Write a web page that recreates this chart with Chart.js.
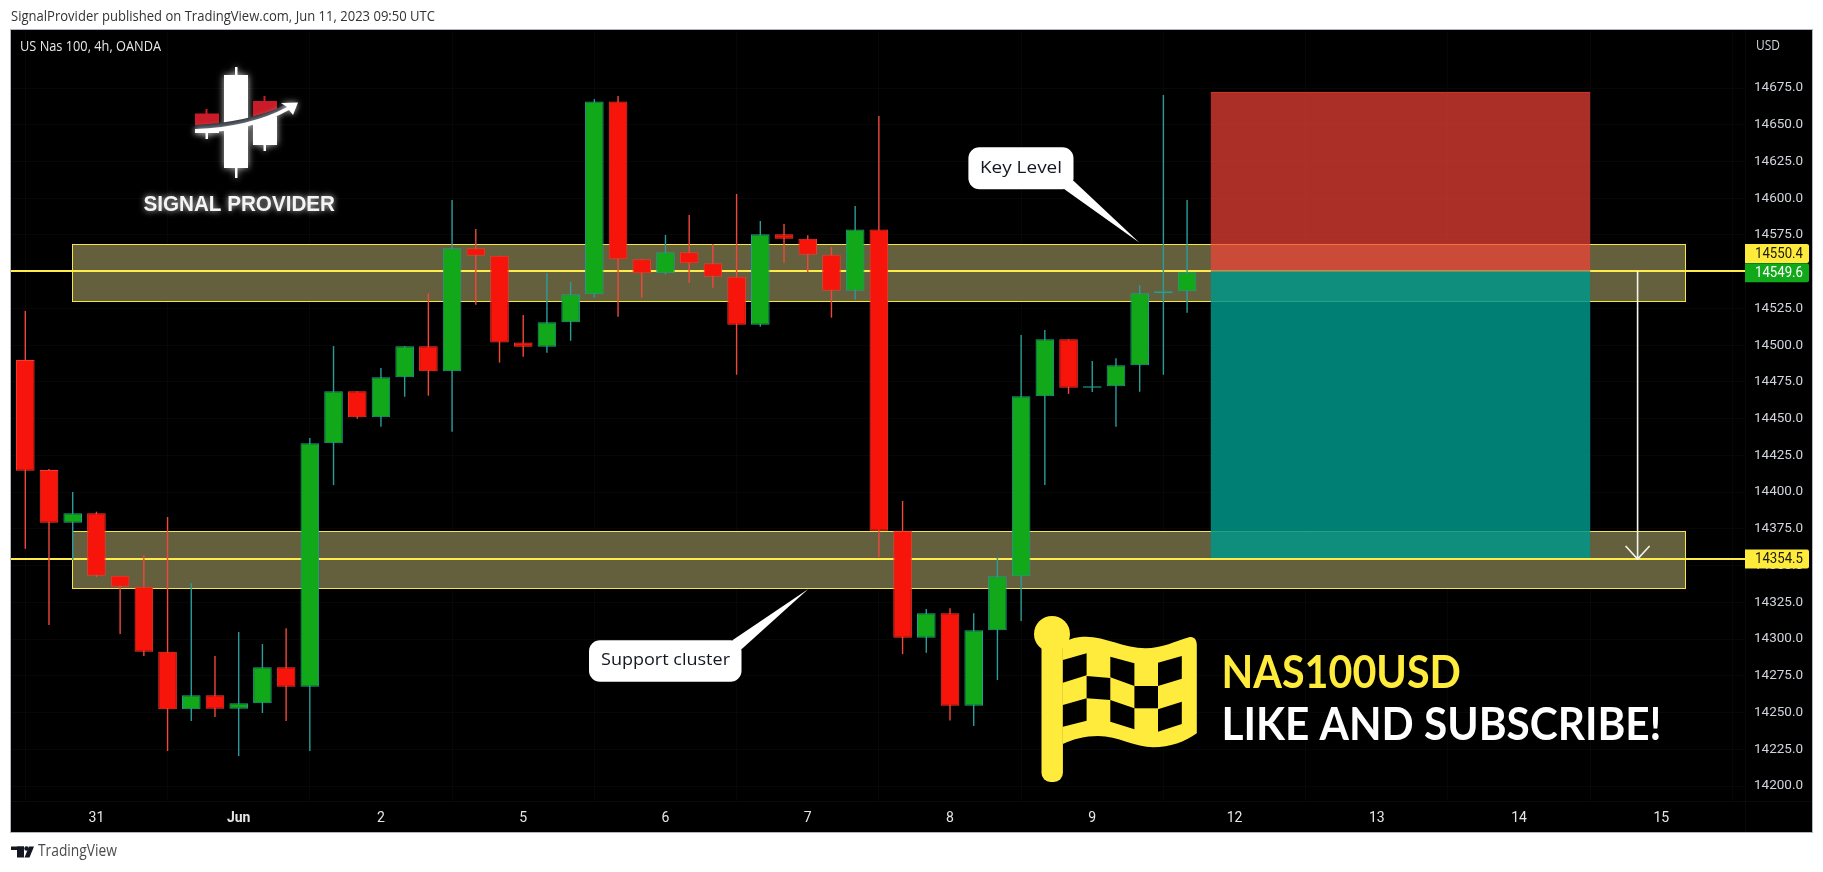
<!DOCTYPE html>
<html>
<head>
<meta charset="utf-8">
<style>
html,body{margin:0;padding:0;background:#fff;width:1823px;height:872px;overflow:hidden}
canvas{display:block}
</style>
<script src="https://cdn.jsdelivr.net/npm/chart.js@4"></script>
</head>
<body>
<canvas id="c" width="1823" height="872" style="width:1823px;height:872px"></canvas>
<script>
const opens =[14489.9,14415.0,14379.2,14385.6,14343.1,14335.6,14291.4,14252.2,14261.7,14252.6,14256.3,14280.8,14267.6,14433.2,14468.6,14450.9,14478.1,14499.2,14482.2,14565.9,14560.9,14501.9,14499.0,14515.6,14534.6,14665.9,14558.4,14548.9,14563.2,14555.7,14546.6,14513.9,14575.4,14572.4,14561.6,14537.1,14578.8,14373.7,14300.9,14317.5,14254.7,14306.0,14342.7,14465.2,14504.0,14471.1,14472.0,14486.3,14535.3,14536.7];
const highs =[14523.2,14415.7,14400.1,14386.7,14343.1,14357.2,14383.1,14338.0,14288.5,14304.8,14296.6,14307.3,14436.8,14499.4,14468.6,14484.5,14499.4,14535.3,14598.8,14579.0,14560.9,14520.5,14548.9,14543.0,14667.5,14669.6,14558.4,14575.0,14588.6,14568.8,14602.9,14584.5,14582.5,14574.8,14566.8,14594.7,14655.9,14394.0,14320.5,14321.0,14317.5,14355.4,14506.9,14510.3,14504.0,14489.2,14491.1,14540.9,14670.2,14598.8];
const lows  =[14361.5,14309.6,14353.8,14342.2,14303.4,14288.5,14223.8,14244.2,14247.0,14220.4,14249.7,14244.2,14223.8,14404.8,14450.0,14444.5,14464.9,14465.6,14441.1,14527.5,14488.1,14492.1,14494.9,14503.0,14532.3,14519.4,14532.3,14548.0,14542.5,14539.1,14479.9,14512.6,14556.1,14549.8,14518.7,14530.9,14355.6,14289.8,14290.7,14244.5,14240.8,14272.1,14312.3,14404.8,14466.8,14468.1,14444.5,14468.3,14479.9,14522.1];
const closes=[14414.6,14379.2,14385.6,14343.1,14335.6,14291.4,14252.2,14261.7,14252.6,14256.3,14280.8,14267.6,14433.2,14468.6,14450.9,14478.1,14499.2,14482.2,14565.9,14560.9,14501.9,14499.0,14515.6,14534.6,14665.9,14558.4,14548.9,14563.2,14555.7,14546.6,14513.9,14575.4,14572.4,14561.6,14537.1,14578.8,14373.7,14300.9,14317.5,14254.7,14306.0,14342.7,14465.2,14504.0,14471.1,14472.0,14486.3,14535.3,14536.7,14549.6];
const priceTicks=[14200,14225,14250,14275,14300,14325,14350,14375,14400,14425,14450,14475,14500,14525,14550,14575,14600,14625,14650,14675];
const dateTicks=[3,9,15,21,27,33,39,45,51,57,63,69];
const dateLabels=["31","Jun","2","5","6","7","8","9","12","13","14","15"];
const zoneTop=[14568.6,14529.6];
const zoneBottom=[14373.3,14334.5];
const zoneSpan=[1.97,70];
const levels=[14550.4,14354.5];
const lastClose=14549.6;
const positionSpan=[50,66];
const stopPrice=14672;
const entryPrice=14550.4;
const targetPrice=14354.5;
const arrowIndex=68;

const indices=opens.map((_,i)=>i);
const isUp=i=>closes[i]>=opens[i];
const FONT='"Open Sans"';

function rr(ctx,x,y,w,h,r){ctx.beginPath();ctx.roundRect(x,y,w,h,r);}
function poly(ctx,pts,color){ctx.fillStyle=color;ctx.beginPath();pts.forEach((p,i)=>i?ctx.lineTo(p[0],p[1]):ctx.moveTo(p[0],p[1]));ctx.closePath();ctx.fill();}
function fit(ctx,text,x,y,w,font,color){ctx.save();ctx.font=font;ctx.fillStyle=color;ctx.textAlign='left';ctx.textBaseline='middle';const m=ctx.measureText(text).width;ctx.translate(x,y);ctx.scale(w/m,1);ctx.fillText(text,0,0);ctx.restore();}

function drawLogo(ctx){
  ctx.save();
  ctx.shadowColor='rgba(255,255,255,.75)';ctx.shadowBlur=7;
  ctx.fillStyle='#fff';
  ctx.fillRect(235,67,2.5,111);
  ctx.fillRect(224,75,24,93);
  ctx.fillRect(205.5,130,2.5,9);
  ctx.fillRect(263.5,141,2.5,10);
  ctx.beginPath();ctx.moveTo(253,124);ctx.lineTo(277,116);ctx.lineTo(277,145);ctx.lineTo(253,145);ctx.closePath();ctx.fill();
  ctx.fillRect(195,130,24,3);
  ctx.fillStyle='#c91c28';ctx.shadowBlur=0;
  ctx.fillRect(205.5,109,2,6);ctx.fillRect(263.5,96,2,6);
  ctx.fillRect(195,113.5,24,11.5);
  ctx.beginPath();ctx.moveTo(253,101);ctx.lineTo(277,101);ctx.lineTo(277,110);ctx.lineTo(253,116.5);ctx.closePath();ctx.fill();
  ctx.fillStyle='#232a33';
  ctx.beginPath();ctx.moveTo(195,125);ctx.quadraticCurveTo(250,122,285,105);ctx.lineTo(287,108);ctx.quadraticCurveTo(250,129,195,130);ctx.closePath();ctx.fill();
  ctx.shadowBlur=6;ctx.fillStyle='#fff';
  ctx.beginPath();ctx.moveTo(195,129);ctx.quadraticCurveTo(250,127,287,107);ctx.lineTo(281,103);ctx.lineTo(298,102.5);ctx.lineTo(293,115);ctx.lineTo(289,110);ctx.quadraticCurveTo(250,132,195,133);ctx.closePath();ctx.fill();
  ctx.shadowColor='rgba(255,255,255,.8)';ctx.shadowBlur=6;
  fit(ctx,'SIGNAL PROVIDER',143.5,205,191.5,'bold 22px "Liberation Sans"','#f4f4f4');
  ctx.restore();
}
function drawFlag(ctx){
  const Y='#ffeb3b';
  ctx.save();
  ctx.fillStyle=Y;
  ctx.beginPath();ctx.arc(1052,634,18,0,Math.PI*2);ctx.fill();
  rr(ctx,1041.5,640,21.4,142,9);ctx.fill();
  ctx.beginPath();ctx.moveTo(1062.9,643.3);
  ctx.bezierCurveTo(1070,638,1078,636.7,1086,636.7);
  ctx.bezierCurveTo(1105,636.7,1125,648.3,1145.4,648.3);
  ctx.bezierCurveTo(1162,648.3,1176,641,1189,637.3);
  ctx.bezierCurveTo(1194,636,1196.8,640,1196.8,645);
  ctx.lineTo(1196.8,733.3);
  ctx.bezierCurveTo(1185,742,1170,747.3,1153.4,747.3);
  ctx.bezierCurveTo(1135,747.3,1118,736,1098,736);
  ctx.bezierCurveTo(1085,736,1073,739,1062.9,744);
  ctx.closePath();ctx.fill();
  [[[1062.9,660],[1086.6,653.3],[1086.6,675.3],[1062.9,682.7]],
   [[1110.3,656.7],[1134.4,663.3],[1134.4,686],[1110.3,677.3]],
   [[1158,662.7],[1181.8,656],[1181.8,678.7],[1158,686]],
   [[1086.6,676],[1110.3,678],[1110.3,700],[1086.6,698.3]],
   [[1134.4,686],[1158,686],[1158,708.3],[1134.4,708.3]],
   [[1062.9,705],[1086.6,698.3],[1086.6,720.7],[1062.9,726.7]],
   [[1110.3,700],[1134.4,708.3],[1134.4,729.3],[1110.3,721.7]],
   [[1158,709.3],[1181.8,701.7],[1181.8,724],[1158,731.7]]
  ].forEach(c=>poly(ctx,c,'#000'));
  ctx.restore();
}
function callout(ctx,x,y,w,h,tail,text,tx,tw){
  ctx.save();
  ctx.fillStyle='#fff';
  rr(ctx,x,y,w,h,11);ctx.fill();
  poly(ctx,tail,'#fff');
  fit(ctx,text,tx,y+h/2-.5,tw,'17px '+FONT,'#131722');
  ctx.restore();
}
const decor={
  id:'decor',
  beforeDraw(chart){
    const ctx=chart.ctx;
    ctx.save();
    ctx.fillStyle='#fff';ctx.fillRect(0,0,1823,872);
    ctx.fillStyle='#000';ctx.fillRect(11,30,1801,802);
    ctx.strokeStyle='#b2b5be';ctx.lineWidth=1;ctx.strokeRect(10.5,29.5,1802,803);
    ctx.strokeStyle='#0a0a0a';ctx.beginPath();ctx.moveTo(1745.5,30);ctx.lineTo(1745.5,832);ctx.moveTo(11,801.5);ctx.lineTo(1812,801.5);ctx.stroke();
    fit(ctx,'SignalProvider published on TradingView.com, Jun 11, 2023 09:50 UTC',11,17,424,'14px '+FONT,'#333');
    fit(ctx,'TradingView',38,852,79,'15.5px '+FONT,'#4a4a4a');
    ctx.fillStyle='#131722';
    ctx.fillRect(11,846.5,13,3.5);ctx.fillRect(17,846.5,7,11);
    ctx.beginPath();ctx.arc(26.5,848.5,2.2,0,Math.PI*2);ctx.fill();
    poly(ctx,[[29,846.5],[34,846.5],[29.5,857.5],[24.5,857.5]],'#131722');
    ctx.restore();
  },
  beforeDatasetsDraw(chart){
    const ctx=chart.ctx,xs=chart.scales.x,ys=chart.scales.y,a=chart.chartArea;
    ctx.save();
    ctx.beginPath();ctx.rect(a.left,a.top,a.right-a.left,a.bottom-a.top);ctx.clip();
    [zoneTop,zoneBottom].forEach(z=>{
      const x0=xs.getPixelForValue(zoneSpan[0]),x1=xs.getPixelForValue(zoneSpan[1]);
      const y0=ys.getPixelForValue(z[0]),y1=ys.getPixelForValue(z[1]);
      ctx.fillStyle='#645f3c';ctx.fillRect(x0,y0,x1-x0,y1-y0);
      ctx.strokeStyle='#f5e44a';ctx.lineWidth=1;
      ctx.strokeRect(Math.round(x0)+.5,Math.round(y0)+.5,Math.round(x1-x0),Math.round(y1-y0));
    });
    ctx.strokeStyle='#fdeb4a';ctx.lineWidth=2;
    levels.forEach(l=>{const y=ys.getPixelForValue(l);ctx.beginPath();ctx.moveTo(a.left,y);ctx.lineTo(a.right,y);ctx.stroke();});
    const px0=xs.getPixelForValue(positionSpan[0]),px1=xs.getPixelForValue(positionSpan[1]);
    const ys0=ys.getPixelForValue(stopPrice),ye=ys.getPixelForValue(entryPrice),yt=ys.getPixelForValue(targetPrice);
    ctx.fillStyle='rgba(244,67,54,.7)';ctx.fillRect(px0,ys0,px1-px0,ye-ys0);
    ctx.fillStyle='rgba(0,150,136,.85)';ctx.fillRect(px0,ye,px1-px0,yt-ye-1);
    ctx.strokeStyle='#d8362a';ctx.lineWidth=1;
    ctx.beginPath();ctx.moveTo(px0,ys0);ctx.lineTo(px1,ys0);ctx.stroke();
    const ax=xs.getPixelForValue(arrowIndex);
    ctx.strokeStyle='#f5f5ee';ctx.lineWidth=1.6;
    ctx.beginPath();ctx.moveTo(ax,ye);ctx.lineTo(ax,yt);ctx.moveTo(ax-12,yt-13);ctx.lineTo(ax,yt);ctx.lineTo(ax+12,yt-13);ctx.stroke();
    ctx.restore();
    drawLogo(ctx);
    drawFlag(ctx);
    fit(ctx,'NAS100USD',1221.5,673,239.5,'bold 46px Lato','#ffeb3b');
    fit(ctx,'LIKE AND SUBSCRIBE!',1221.5,725.5,440,'bold 46px Lato','#ffffff');
  },
  afterDraw(chart){
    const ctx=chart.ctx,ys=chart.scales.y;
    ctx.save();
    fit(ctx,'US Nas 100, 4h, OANDA',20,47,141,'14px '+FONT,'#e8e8e8');
    fit(ctx,'USD',1756,46,24,'14px '+FONT,'#d1d4dc');
    callout(ctx,968.4,147.3,105.1,42,[[1073.5,180.7],[1064.4,189.3],[1139.5,242.7]],'Key Level',980,82);
    callout(ctx,589,640.3,152.5,41.4,[[732.4,640.3],[741.5,649.3],[808.3,589]],'Support cluster',601,129);
    const tag=(yc,val,bg,fg)=>{
      ctx.fillStyle=bg;rr(ctx,1745,yc-9.5,64,19,[0,2,2,0]);ctx.fill();
      fit(ctx,val.toFixed(1),1755,yc+.5,48,'14px Roboto',fg);
    };
    tag(ys.getPixelForValue(levels[0])-17.5,levels[0],'#ffeb3b','#1a1a10');
    tag(ys.getPixelForValue(lastClose)+.5,lastClose,'#11a81a','#ffffff');
    tag(ys.getPixelForValue(levels[1]),levels[1],'#ffeb3b','#1a1a10');
    ctx.restore();
  }
};
const wickData=indices.map(i=>({x:i,y:[lows[i],highs[i]]}));
const bodyData=indices.map(i=>({x:i,y:[opens[i],closes[i]]}));
new Chart(document.getElementById('c'),{
  type:'bar',
  data:{datasets:[
    {label:'Body',data:bodyData,order:1,grouped:false,barThickness:18.6,borderWidth:1,borderSkipped:false,inflateAmount:0,
     backgroundColor:c=>isUp(c.dataIndex)?'#11a81a':'#f7150b',
     borderColor:c=>isUp(c.dataIndex)?'#1f9f96':'#f6392d'},
    {label:'Wick',data:wickData,order:2,grouped:false,barThickness:1.4,borderWidth:0,inflateAmount:0,
     backgroundColor:c=>isUp(c.dataIndex)?'#2a9d9a':'#f0483b'}
  ]},
  options:{
    responsive:false,animation:false,devicePixelRatio:1,
    layout:{padding:{left:11,top:31,right:11,bottom:40}},
    plugins:{legend:{display:false},tooltip:{enabled:false}},
    scales:{
      x:{type:'linear',min:-0.603,max:72.53,offset:false,
        grid:{color:'#070707',drawTicks:false},border:{display:false},
        afterBuildTicks:s=>{s.ticks=dateTicks.map(v=>({value:v}));},
        afterFit:s=>{s.height=31;},
        ticks:{autoSkip:false,maxRotation:0,padding:9,color:'#e6e6e6',
          font:c=>({family:'Roboto',size:14,weight:c.tick&&c.tick.value===9?'bold':'normal'}),
          callback:v=>dateLabels[dateTicks.indexOf(v)]}
      },
      y:{position:'right',min:14189.8,max:14713.8,
        grid:{color:'#070707',drawTicks:false},border:{display:false},
        afterBuildTicks:s=>{s.ticks=priceTicks.map(v=>({value:v}));},
        afterFit:s=>{s.width=67;},
        ticks:{autoSkip:false,padding:9,color:'#d1d4dc',font:{family:'Roboto',size:13.5},
          callback:v=>v.toFixed(1)}
      }
    }
  },
  plugins:[decor]
});
</script>
</body>
</html>
